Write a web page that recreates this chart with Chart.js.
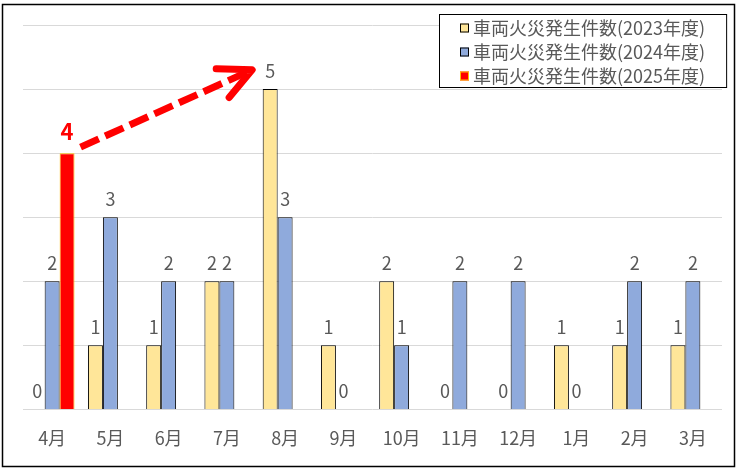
<!DOCTYPE html>
<html lang="ja">
<head>
<meta charset="utf-8">
<title>車両火災発生件数</title>
<script src="https://cdn.jsdelivr.net/npm/chart.js@4.4.1/dist/chart.umd.min.js"></script>
<style>
  html, body { margin: 0; padding: 0; background: #fff; }
  canvas { display: block; }
</style>
</head>
<body>
<canvas id="fireChart" width="740" height="470"></canvas>
<script>
// 月別の車両火災発生件数
const months = ['4月', '5月', '6月', '7月', '8月', '9月', '10月', '11月', '12月', '1月', '2月', '3月'];
const fires2023 = [0, 1, 1, 2, 5, 1, 2, 0, 0, 1, 1, 1];
const fires2024 = [2, 3, 2, 2, 3, 0, 1, 2, 2, 0, 2, 2];
const fires2025 = [4, null, null, null, null, null, null, null, null, null, null, null];
const seriesLabels = ['車両火災発生件数(2023年度)', '車両火災発生件数(2024年度)', '車両火災発生件数(2025年度)'];
const yMax = 6;

const FONT = "'Noto Sans CJK JP', 'Noto Sans', sans-serif";
const GRAY = '#595959';

Chart.defaults.font.family = FONT;
Chart.defaults.color = GRAY;

// outer frame of the chart
const frame = {
  id: 'frame',
  beforeDraw(chart) {
    const ctx = chart.ctx;
    ctx.save();
    ctx.fillStyle = '#fff';
    ctx.fillRect(0, 0, chart.width, chart.height);
    ctx.strokeStyle = '#000';
    ctx.lineWidth = 1.5;
    ctx.strokeRect(2.5, 4.5, chart.width - 8, chart.height - 8);
    ctx.restore();
  }
};

// value labels above each bar
const barLabels = {
  id: 'barLabels',
  afterDatasetsDraw(chart) {
    const ctx = chart.ctx;
    chart.data.datasets.forEach((ds, i) => {
      const meta = chart.getDatasetMeta(i);
      const big = i === 2;
      meta.data.forEach((bar, j) => {
        const v = ds.data[j];
        if (v === null || v === undefined) return;
        ctx.save();
        ctx.font = (big ? 'bold 22px ' : '18px ') + FONT;
        ctx.fillStyle = big ? '#FF0000' : GRAY;
        ctx.textAlign = 'center';
        ctx.textBaseline = 'middle';
        ctx.fillText(String(v), bar.x, bar.y - (big ? 21 : 18));
        ctx.restore();
      });
    });
  }
};

// red dashed arrow from the 2025 April bar toward the August peak
const trendArrow = {
  id: 'trendArrow',
  afterDatasetsDraw(chart) {
    const ctx = chart.ctx;
    const from = chart.getDatasetMeta(2).data[0];
    const to = chart.getDatasetMeta(0).data[4];
    const x1 = from.x + from.width / 2 + 6;
    const y1 = from.y - 6;
    const x2 = to.x - 18;
    const y2 = chart.scales.y.getPixelForValue(5.3);
    const ang = Math.atan2(y2 - y1, x2 - x1);
    const head = 36, spread = 26 * Math.PI / 180;

    ctx.save();
    ctx.strokeStyle = '#FF0000';
    ctx.lineWidth = 7;
    ctx.setLineDash([20, 7]);
    ctx.beginPath();
    ctx.moveTo(x1, y1);
    ctx.lineTo(x2 - 6 * Math.cos(ang), y2 - 6 * Math.sin(ang));
    ctx.stroke();

    ctx.setLineDash([]);
    ctx.lineCap = 'round';
    ctx.lineJoin = 'round';
    ctx.beginPath();
    ctx.moveTo(x2 - head * Math.cos(ang - spread), y2 - head * Math.sin(ang - spread));
    ctx.lineTo(x2, y2);
    ctx.lineTo(x2 - head * Math.cos(ang + spread), y2 - head * Math.sin(ang + spread));
    ctx.stroke();
    ctx.restore();
  }
};

// boxed legend in the top-right corner of the plot
const boxLegend = {
  id: 'boxLegend',
  afterDraw(chart) {
    const ctx = chart.ctx;
    const area = chart.chartArea;
    const rowH = 24, marker = 9, pad = 21, gap = 4;
    ctx.save();
    ctx.font = '18px ' + FONT;
    const textW = Math.max(...chart.data.datasets.map(ds => ctx.measureText(ds.label).width));
    const w = pad * 2 + marker + gap + textW;
    const h = rowH * chart.data.datasets.length + 1;
    const left = Math.round(area.right + 4 - w);
    const top = area.top - 11;

    ctx.fillStyle = '#fff';
    ctx.fillRect(left, top, w, h);
    ctx.strokeStyle = '#000';
    ctx.lineWidth = 1;
    ctx.strokeRect(left + 0.5, top + 0.5, w, h);

    chart.data.datasets.forEach((ds, i) => {
      const cy = top + 14 + i * rowH;
      const mx = left + pad;
      ctx.fillStyle = ds.backgroundColor;
      ctx.fillRect(mx, cy - marker / 2, marker, marker);
      ctx.strokeStyle = ds.borderColor;
      ctx.lineWidth = 1;
      ctx.strokeRect(mx + 0.5, cy - marker / 2 + 0.5, marker - 1, marker - 1);
      ctx.fillStyle = GRAY;
      ctx.textAlign = 'left';
      ctx.textBaseline = 'middle';
      ctx.fillText(ds.label, mx + marker + gap, cy);
    });
    ctx.restore();
  }
};

new Chart(document.getElementById('fireChart'), {
  type: 'bar',
  data: {
    labels: months,
    datasets: [
      { label: seriesLabels[0], data: fires2023, backgroundColor: '#FFE699', borderColor: '#000000', borderWidth: 1 },
      { label: seriesLabels[1], data: fires2024, backgroundColor: '#8FAADC', borderColor: '#000000', borderWidth: 1 },
      { label: seriesLabels[2], data: fires2025, backgroundColor: '#FF0000', borderColor: '#FFC000', borderWidth: 1 }
    ]
  },
  options: {
    responsive: false,
    animation: false,
    events: [],
    layout: { padding: { left: 23, right: 18, top: 25, bottom: 11 } },
    datasets: { bar: { barPercentage: 1, categoryPercentage: 0.77 } },
    plugins: {
      legend: { display: false },
      tooltip: { enabled: false }
    },
    scales: {
      x: {
        grid: { display: false },
        border: { display: false },
        ticks: { color: GRAY, font: { size: 18 }, padding: 10 }
      },
      y: {
        min: 0,
        max: yMax,
        ticks: { display: false, stepSize: 1 },
        grid: { color: '#D9D9D9', drawTicks: false },
        border: { display: false }
      }
    }
  },
  plugins: [frame, barLabels, trendArrow, boxLegend]
});
</script>
</body>
</html>
